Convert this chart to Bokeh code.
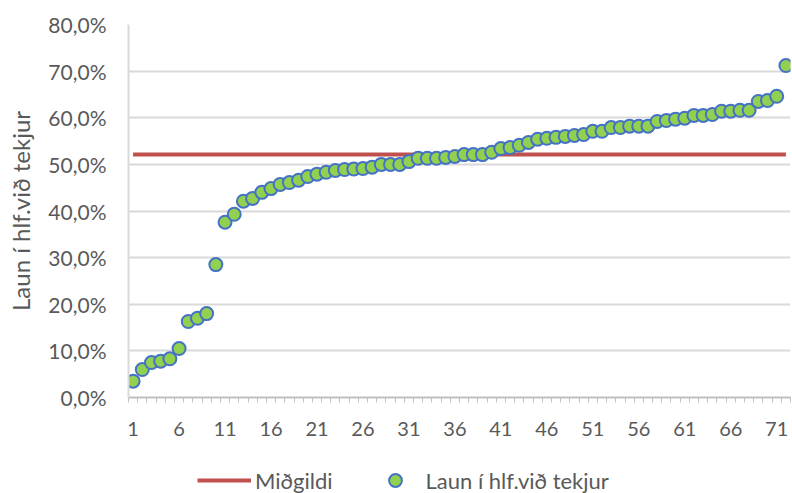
from bokeh.plotting import figure
from bokeh.models import FixedTicker, Legend, LegendItem, Range1d, ColumnDataSource
from bokeh.layouts import column
from bokeh.embed import file_html
from bokeh.resources import INLINE

# Data (percent)
values = [3.5, 6.0, 7.5, 7.8, 8.3, 10.5, 16.3, 17.0, 18.0, 28.5,
          37.6, 39.3, 42.1, 42.7, 44.0, 44.8, 45.7, 46.1, 46.6, 47.4,
          47.9, 48.3, 48.7, 48.9, 49.0, 49.1, 49.4, 50.0, 50.0, 50.0,
          50.6, 51.3, 51.3, 51.3, 51.5, 51.7, 52.1, 52.1, 52.1, 52.6,
          53.4, 53.6, 54.1, 54.7, 55.4, 55.6, 55.8, 56.0, 56.2, 56.4,
          57.1, 57.1, 57.9, 57.9, 58.2, 58.2, 58.2, 59.2, 59.4, 59.7,
          59.9, 60.5, 60.5, 60.7, 61.4, 61.4, 61.6, 61.6, 63.5, 63.7,
          64.6, 71.2]
categories = list(range(1, len(values) + 1))
median_value = 52.1
median = [median_value] * len(categories)
x_tick_labels = list(range(1, 72, 5))
y_ticks = [0, 10, 20, 30, 40, 50, 60, 70, 80]
y_tick_labels = ["0,0%", "10,0%", "20,0%", "30,0%", "40,0%", "50,0%", "60,0%", "70,0%", "80,0%"]
series_name = "Laun í hlf.við tekjur"
median_name = "Miðgildi"

FONT = "Lato"
TXT = "#595959"
RED = "#C0504D"
GREEN = "#92D050"
BLUE = "#4472C4"

src = ColumnDataSource(dict(x=categories, y=values, m=median))

p = figure(width=792, height=450, output_backend="svg", toolbar_location=None,
           x_range=Range1d(0.5, len(categories) + 0.5), y_range=Range1d(0, 80),
           min_border_left=128, min_border_right=2, min_border_top=24, min_border_bottom=53)
p.outline_line_color = None
p.background_fill_color = "white"
p.border_fill_color = "white"

p.line("x", "m", source=src, line_color=RED, line_width=4)
p.scatter("x", "y", source=src, size=13, fill_color=GREEN,
          line_color=BLUE, line_width=2)

# x axis
p.xaxis.ticker = FixedTicker(ticks=x_tick_labels,
                             minor_ticks=[c - 0.5 for c in categories] + [len(categories) + 0.5])
p.xaxis.major_tick_out = 0
p.xaxis.major_tick_in = 0
p.xaxis.minor_tick_out = 5
p.xaxis.minor_tick_in = 0
p.xaxis.minor_tick_line_color = "#BFBFBF"
p.xaxis.minor_tick_line_width = 1
p.xaxis.axis_line_color = "#BFBFBF"
p.xaxis.axis_line_width = 2
p.xaxis.major_label_text_font = FONT
p.xaxis.major_label_text_font_size = "20px"
p.xaxis.major_label_text_color = TXT
p.xaxis.major_label_standoff = 19
p.xgrid.grid_line_color = None

# y axis
p.yaxis.ticker = FixedTicker(ticks=y_ticks)
p.yaxis.major_label_overrides = {t: lab for t, lab in zip(y_ticks, y_tick_labels)}
p.yaxis.major_tick_out = 0
p.yaxis.major_tick_in = 0
p.yaxis.minor_tick_out = 0
p.yaxis.minor_tick_in = 0
p.yaxis.axis_line_color = "#D9D9D9"
p.yaxis.axis_line_width = 2
p.yaxis.major_label_text_font = FONT
p.yaxis.major_label_text_font_size = "21px"
p.yaxis.major_label_text_color = TXT
p.yaxis.major_label_standoff = 22
p.yaxis.axis_label = series_name
p.yaxis.axis_label_text_font = FONT
p.yaxis.axis_label_text_font_size = "24px"
p.yaxis.axis_label_text_font_style = "normal"
p.yaxis.axis_label_text_color = TXT
p.yaxis.axis_label_standoff = 10
p.ygrid.grid_line_color = "#D9D9D9"
p.ygrid.grid_line_width = 2

# legend strip (its frame is aligned with the main plot's frame)
p2 = figure(width=792, height=43, output_backend="svg", toolbar_location=None,
            x_range=Range1d(0, 1), y_range=Range1d(0, 1),
            min_border_left=0, min_border_right=0, min_border_top=0, min_border_bottom=0)
p2.axis.visible = False
p2.grid.visible = False
p2.outline_line_color = None
hidden = ColumnDataSource(dict(x=[-10], y=[-10]))
lr = p2.line("x", "y", source=hidden, line_color=RED, line_width=4)
sr = p2.scatter("x", "y", source=hidden, size=13, fill_color=GREEN,
                line_color=BLUE, line_width=2)
legend = Legend(items=[LegendItem(label=median_name, renderers=[lr]),
                       LegendItem(label=series_name, renderers=[sr])],
                orientation="horizontal", location=(69, -3),
                label_text_font=FONT, label_text_font_size="22px",
                label_text_color=TXT, glyph_width=54, glyph_height=32,
                spacing=35, border_line_color=None, background_fill_alpha=0,
                margin=0, padding=0, label_standoff=4)
p2.add_layout(legend, "center")

open("out.html", "w").write(file_html(column(p, p2), INLINE))
